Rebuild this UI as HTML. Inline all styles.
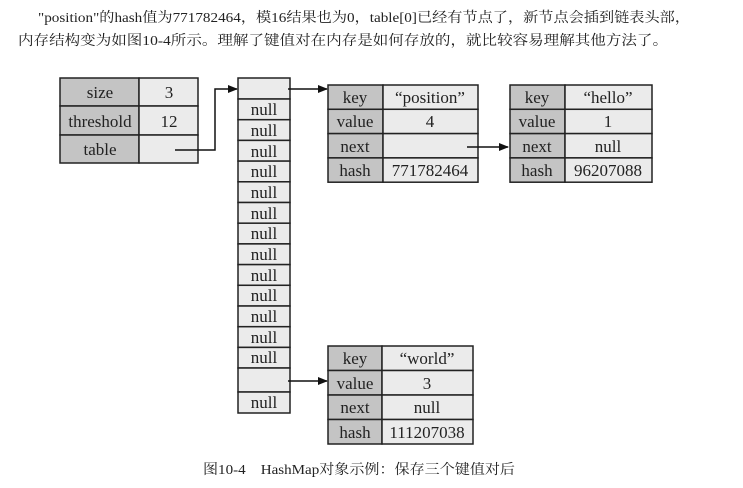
<!DOCTYPE html>
<html><head><meta charset="utf-8"><style>
html,body{margin:0;padding:0;background:#fff;width:743px;height:488px;overflow:hidden}
svg{display:block}
text{font-family:"Liberation Serif","Noto Serif CJK SC",serif;fill:#222}
.h{fill:#c4c4c4;stroke:#222;stroke-width:1.5}
.v{fill:#ebebeb;stroke:#222;stroke-width:1.5}
.c{font-size:17px;text-anchor:middle}
</style></head><body>
<svg width="743" height="488" viewBox="0 0 743 488">
<defs><marker id="a" markerWidth="10" markerHeight="8" refX="9" refY="4" orient="auto" markerUnits="userSpaceOnUse"><path d="M0,0 L10,4 L0,8 Z" fill="#111"/></marker></defs>
<text x="38" y="22" font-size="14" textLength="652" lengthAdjust="spacingAndGlyphs">"position"的hash值为771782464，模16结果也为0，table[0]已经有节点了，新节点会插到链表头部，</text>
<text x="18" y="45" font-size="14" textLength="650" lengthAdjust="spacingAndGlyphs">内存结构变为如图10-4所示。理解了键值对在内存是如何存放的，就比较容易理解其他方法了。</text>

<g>
<rect class="h" x="60" y="78" width="79" height="28"/><rect class="v" x="139" y="78" width="59" height="28"/>
<rect class="h" x="60" y="106" width="79" height="29"/><rect class="v" x="139" y="106" width="59" height="29"/>
<rect class="h" x="60" y="135" width="79" height="28"/><rect class="v" x="139" y="135" width="59" height="28"/>
<text class="c" x="100" y="98">size</text><text class="c" x="169" y="98">3</text>
<text class="c" x="100" y="127">threshold</text><text class="c" x="169" y="127">12</text>
<text class="c" x="100" y="155">table</text>
</g>
<path d="M175,150 H215 V89 H237" fill="none" stroke="#111" stroke-width="1.5" marker-end="url(#a)"/>

<rect class="v" x="238" y="78" width="52" height="21"/>
<g font-size="16">
<rect class="v" x="238" y="99" width="52" height="20.7"/><text class="c" x="264" y="115">null</text>
<rect class="v" x="238" y="119.7" width="52" height="20.7"/><text class="c" x="264" y="136">null</text>
<rect class="v" x="238" y="140.4" width="52" height="20.7"/><text class="c" x="264" y="157">null</text>
<rect class="v" x="238" y="161.1" width="52" height="20.7"/><text class="c" x="264" y="177">null</text>
<rect class="v" x="238" y="181.8" width="52" height="20.7"/><text class="c" x="264" y="198">null</text>
<rect class="v" x="238" y="202.5" width="52" height="20.7"/><text class="c" x="264" y="219">null</text>
<rect class="v" x="238" y="223.2" width="52" height="20.7"/><text class="c" x="264" y="239">null</text>
<rect class="v" x="238" y="243.9" width="52" height="20.7"/><text class="c" x="264" y="260">null</text>
<rect class="v" x="238" y="264.6" width="52" height="20.7"/><text class="c" x="264" y="281">null</text>
<rect class="v" x="238" y="285.3" width="52" height="20.7"/><text class="c" x="264" y="301">null</text>
<rect class="v" x="238" y="306" width="52" height="20.7"/><text class="c" x="264" y="322">null</text>
<rect class="v" x="238" y="326.7" width="52" height="20.7"/><text class="c" x="264" y="343">null</text>
<rect class="v" x="238" y="347.4" width="52" height="20.6"/><text class="c" x="264" y="363">null</text>
<rect class="v" x="238" y="368" width="52" height="24"/>
<rect class="v" x="238" y="392" width="52" height="21"/><text class="c" x="264" y="408">null</text>
</g>
<path d="M288,89 H327" stroke="#111" stroke-width="1.5" marker-end="url(#a)"/>
<path d="M288,381 H327" stroke="#111" stroke-width="1.5" marker-end="url(#a)"/>

<g>
<rect class="h" x="328" y="85" width="55" height="24.3"/><rect class="v" x="383" y="85" width="95" height="24.3"/>
<rect class="h" x="328" y="109.3" width="55" height="24.3"/><rect class="v" x="383" y="109.3" width="95" height="24.3"/>
<rect class="h" x="328" y="133.6" width="55" height="24.3"/><rect class="v" x="383" y="133.6" width="95" height="24.3"/>
<rect class="h" x="328" y="157.9" width="55" height="24.3"/><rect class="v" x="383" y="157.9" width="95" height="24.3"/>
<text class="c" x="355" y="103">key</text><text class="c" x="430" y="103">“position”</text>
<text class="c" x="355" y="127">value</text><text class="c" x="430" y="127">4</text>
<text class="c" x="355" y="152">next</text>
<text class="c" x="355" y="176">hash</text><text class="c" x="430" y="176">771782464</text>
</g>
<path d="M467,147 H508" stroke="#111" stroke-width="1.5" marker-end="url(#a)"/>

<g>
<rect class="h" x="510" y="85" width="55" height="24.3"/><rect class="v" x="565" y="85" width="87" height="24.3"/>
<rect class="h" x="510" y="109.3" width="55" height="24.3"/><rect class="v" x="565" y="109.3" width="87" height="24.3"/>
<rect class="h" x="510" y="133.6" width="55" height="24.3"/><rect class="v" x="565" y="133.6" width="87" height="24.3"/>
<rect class="h" x="510" y="157.9" width="55" height="24.3"/><rect class="v" x="565" y="157.9" width="87" height="24.3"/>
<text class="c" x="537" y="103">key</text><text class="c" x="608" y="103">“hello”</text>
<text class="c" x="537" y="127">value</text><text class="c" x="608" y="127">1</text>
<text class="c" x="537" y="152">next</text><text class="c" x="608" y="152">null</text>
<text class="c" x="537" y="176">hash</text><text class="c" x="608" y="176">96207088</text>
</g>

<g>
<rect class="h" x="328" y="346" width="54" height="24.5"/><rect class="v" x="382" y="346" width="91" height="24.5"/>
<rect class="h" x="328" y="370.5" width="54" height="24.5"/><rect class="v" x="382" y="370.5" width="91" height="24.5"/>
<rect class="h" x="328" y="395" width="54" height="24.5"/><rect class="v" x="382" y="395" width="91" height="24.5"/>
<rect class="h" x="328" y="419.5" width="54" height="24.5"/><rect class="v" x="382" y="419.5" width="91" height="24.5"/>
<text class="c" x="355" y="364">key</text><text class="c" x="427" y="364">“world”</text>
<text class="c" x="355" y="389">value</text><text class="c" x="427" y="389">3</text>
<text class="c" x="355" y="413">next</text><text class="c" x="427" y="413">null</text>
<text class="c" x="355" y="438">hash</text><text class="c" x="427" y="438">111207038</text>
</g>

<text x="203" y="474" font-size="14" textLength="312" lengthAdjust="spacingAndGlyphs" xml:space="preserve">图10-4    HashMap对象示例：保存三个键值对后</text>
</svg>
</body></html>
